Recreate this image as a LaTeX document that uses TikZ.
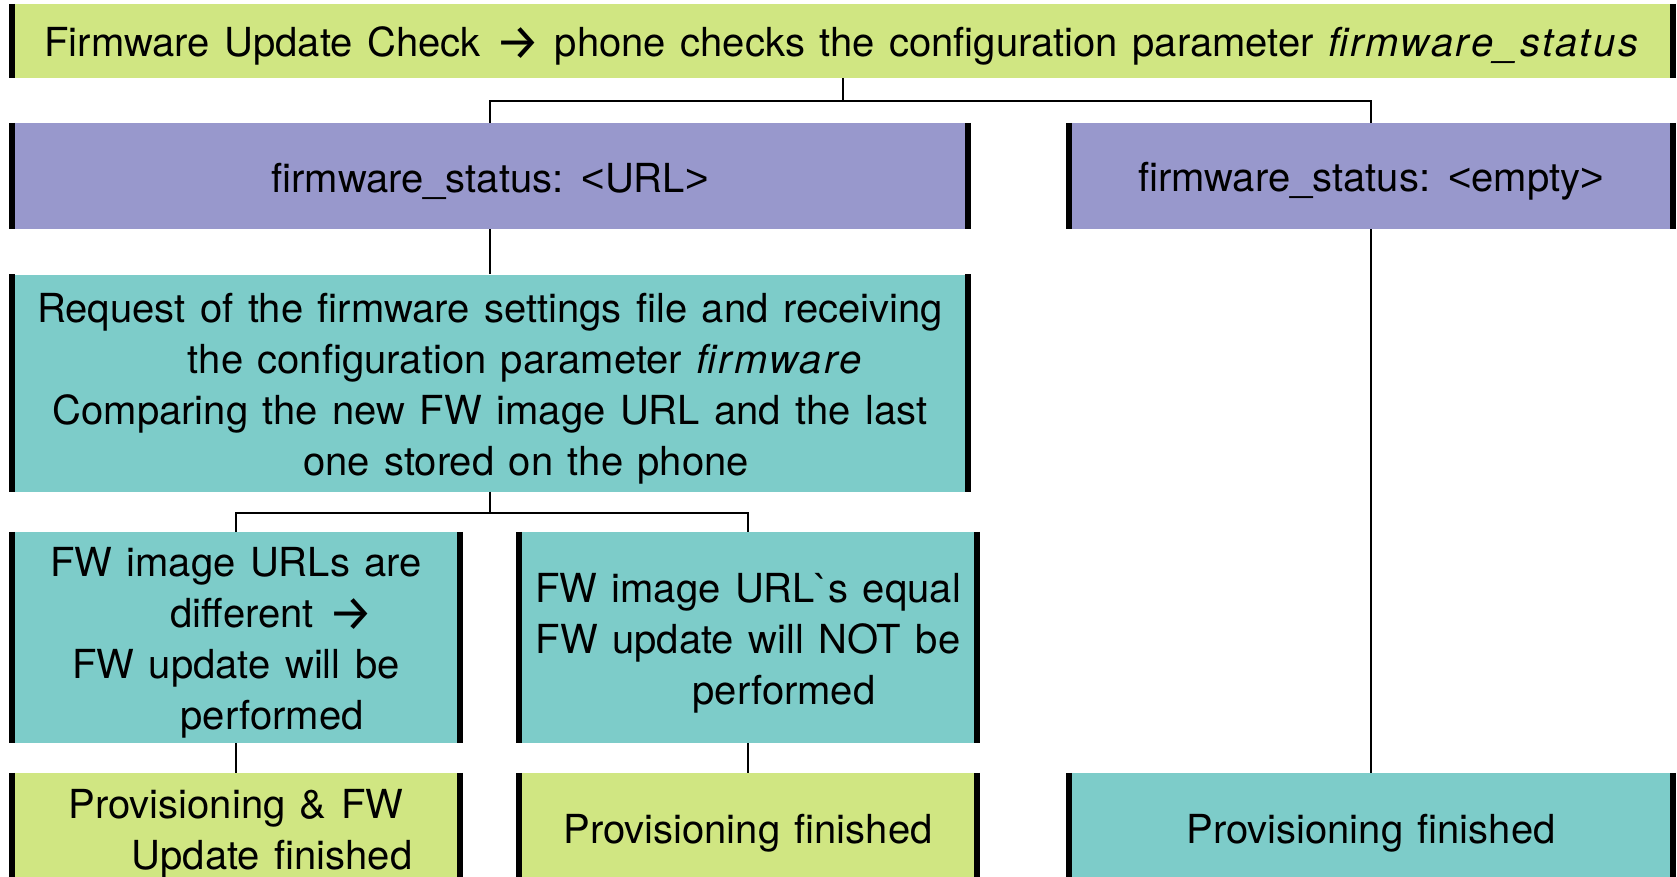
\documentclass[tikz,border=0pt]{standalone}
\usepackage{fontspec}
\setmainfont{TeX Gyre Heros}[WordSpace=1.3, ItalicFeatures={LetterSpace=6}]
\newfontfamily\arrowfont{Fira Sans}
\newfontfamily\glyphfont{Liberation Sans}

\definecolor{limegreen}{RGB}{208,230,130}
\definecolor{lavender}{RGB}{152,152,204}
\definecolor{aquablue}{RGB}{125,204,201}

% rightwards arrow used inside the labels
\newcommand{\fwarrow}{\raisebox{-3pt}{\arrowfont\fontsize{50}{50}\selectfont →}}
% angle signs around placeholders
\newcommand{\lsign}{{\glyphfont<}}
\newcommand{\gsign}{{\glyphfont>}}
% leading space of a wrapped continuation line
\newcommand{\contline}{\hspace*{72pt}}
% fixed line height and depth for vertical centring
\newcommand{\lnstrut}{\rule[-8pt]{0pt}{48pt}}

\begin{document}
\begin{tikzpicture}[x=1pt,y=-1pt,
  box/.style={rectangle, inner sep=0pt, align=center,
    font=\fontsize{40}{51}\selectfont},
  barline/.style={line width=6pt, black},
  link/.style={line width=2pt, black}]

\useasboundingbox (0,0) rectangle (1677,876);
\clip (0,0) rectangle (1677,876);

% top question box
\node[box, fill=limegreen, minimum width=1667pt, minimum height=74pt]
  (top) at (842.5,41) {\lnstrut Firmware Update Check \fwarrow{} phone checks the configuration parameter \textit{firmware\_status}};

% the two values of firmware_status
\node[box, fill=lavender, minimum width=962pt, minimum height=106pt]
  (url) at (490,176) {\lnstrut firmware\_status: \lsign URL\gsign};
\node[box, fill=lavender, minimum width=610pt, minimum height=106pt]
  (empty) at (1371,176) {\lnstrut firmware\_status: \lsign empty\gsign};

% request and comparison step
\node[box, fill=aquablue, minimum width=962pt, minimum height=217pt]
  (request) at (490,383) {\lnstrut Request of the firmware settings file and receiving\\
  \contline the configuration parameter \textit{firmware}\\
  Comparing the new FW image URL and the last\\
  \contline one stored on the phone\lnstrut};

% comparison outcomes
\node[box, fill=aquablue, minimum width=454pt, minimum height=211pt]
  (differ) at (236,637.5) {\lnstrut FW image URLs are\\
  \contline different \fwarrow\\
  FW update will be\\
  \contline performed\lnstrut};
\node[box, fill=aquablue, minimum width=464pt, minimum height=211pt]
  (equal) at (748,637.5) {\lnstrut FW image URL\textasciigrave s equal\\
  FW update will NOT be\\
  \contline performed\lnstrut};

% final states
\node[box, fill=limegreen, minimum width=454pt, minimum height=110pt]
  (donefw) at (236,828) {\lnstrut Provisioning \& FW\\
  \contline Update finished\lnstrut};
\node[box, fill=limegreen, minimum width=464pt, minimum height=110pt]
  (doneeq) at (748,828) {\lnstrut Provisioning finished};
\node[box, fill=aquablue, minimum width=610pt, minimum height=110pt]
  (doneempty) at (1371,828) {\lnstrut Provisioning finished};

% thick black side bars on every box
\foreach \n in {top,url,empty,request,differ,equal,donefw,doneeq,doneempty}{
  \draw[barline] ([xshift=3pt]\n.north west) -- ([xshift=3pt]\n.south west);
  \draw[barline] ([xshift=-3pt]\n.north east) -- ([xshift=-3pt]\n.south east);
}

% connectors
\coordinate (split1) at ([yshift=-23pt]top.south);
\draw[link] (top.south) -- (split1) -| (url.north);
\draw[link] (split1) -| (empty.north);
\draw[link] (url.south) -- (request.north);
\coordinate (split2) at ([yshift=-21pt]request.south);
\draw[link] (request.south) -- (split2) -| (differ.north);
\draw[link] (split2) -| (equal.north);
\draw[link] (differ.south) -- (donefw.north);
\draw[link] (equal.south) -- (doneeq.north);
\draw[link] (empty.south) -- (doneempty.north);

\end{tikzpicture}
\end{document}
